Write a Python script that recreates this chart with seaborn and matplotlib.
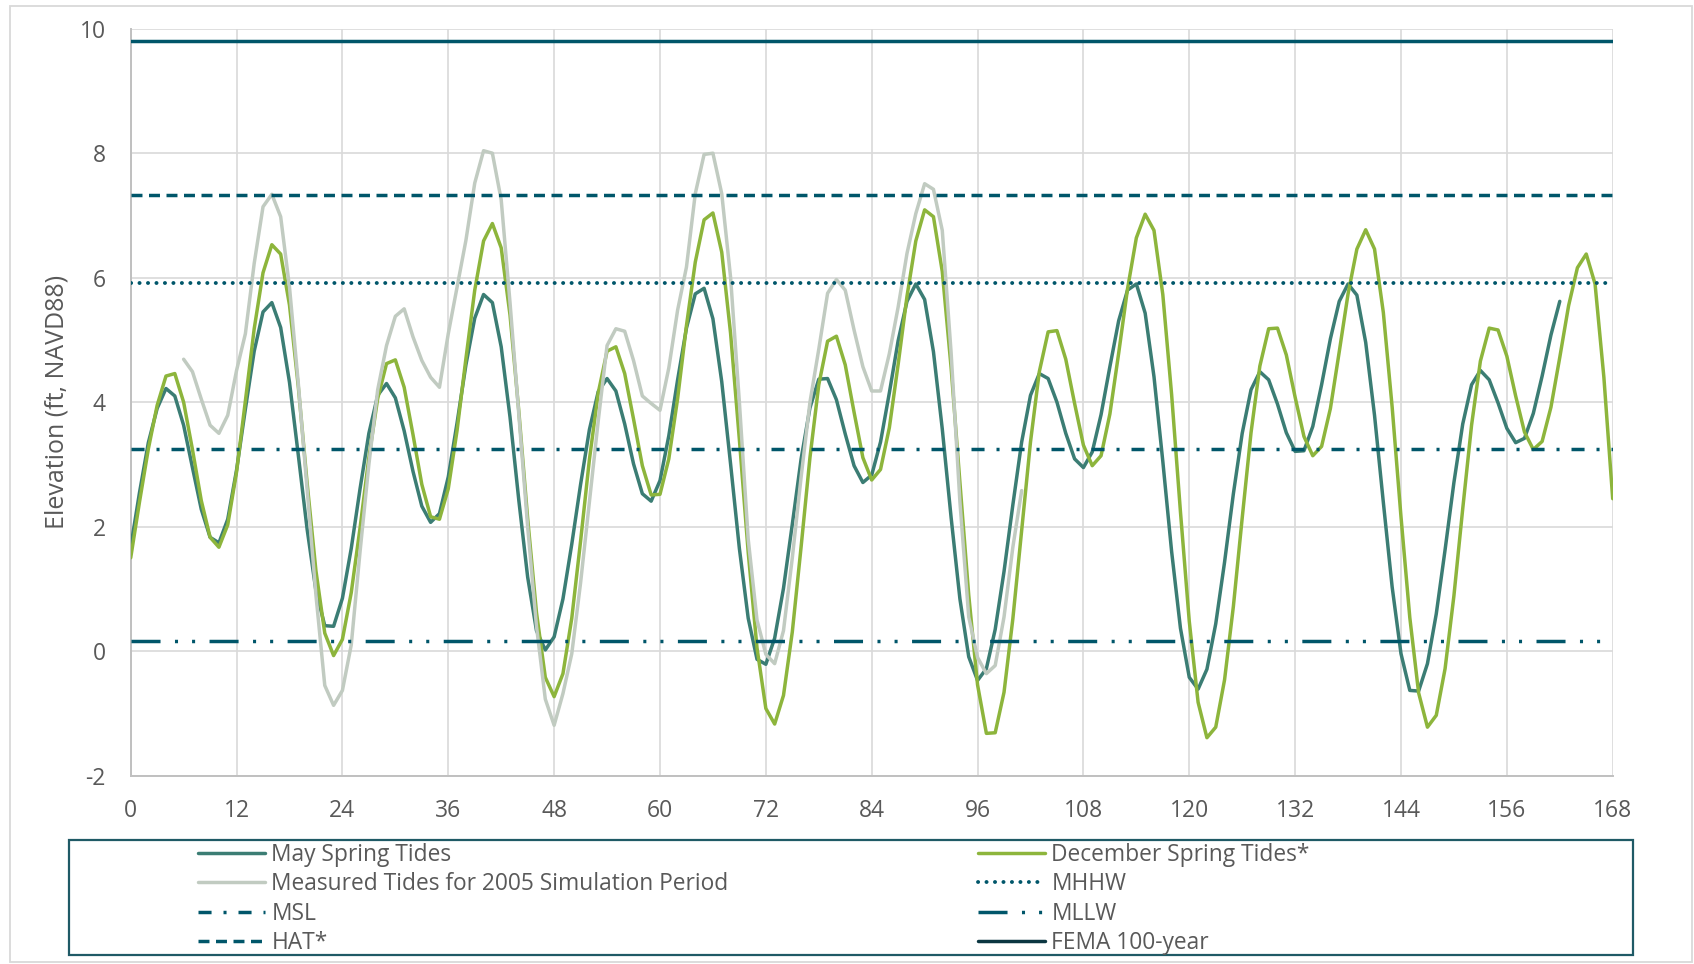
import matplotlib
matplotlib.use("Agg")
import matplotlib.pyplot as plt
import seaborn as sns
import pandas as pd
from matplotlib.lines import Line2D
from matplotlib.patches import Rectangle
from matplotlib.ticker import MultipleLocator

# ---------------- data ----------------
may_hours = list(range(0, 163))
may_tides = [1.67, 2.55, 3.35, 3.90, 4.22, 4.10, 3.63, 2.95, 2.28, 1.83,
             1.74, 2.12, 2.91, 3.89, 4.82, 5.45, 5.60, 5.20, 4.32, 3.15,
             1.96, 0.97, 0.41, 0.40, 0.85, 1.65, 2.61, 3.50, 4.11, 4.30,
             4.07, 3.54, 2.89, 2.33, 2.07, 2.21, 2.80, 3.67, 4.60, 5.35,
             5.73, 5.60, 4.89, 3.76, 2.42, 1.19, 0.33, 0.02, 0.23, 0.84,
             1.72, 2.68, 3.56, 4.17, 4.38, 4.18, 3.65, 3.01, 2.53, 2.41,
             2.74, 3.46, 4.36, 5.19, 5.74, 5.83, 5.34, 4.33, 3.01, 1.65,
             0.53, -0.13, -0.21, 0.21, 1.01, 2.04, 3.09, 3.91, 4.37, 4.38,
             4.04, 3.49, 2.98, 2.71, 2.83, 3.36, 4.15, 4.99, 5.62, 5.90,
             5.65, 4.81, 3.57, 2.15, 0.84, -0.09, -0.47, -0.28, 0.35, 1.28,
             2.35, 3.36, 4.11, 4.46, 4.38, 4.00, 3.50, 3.09, 2.95, 3.20,
             3.80, 4.57, 5.31, 5.80, 5.90, 5.43, 4.41, 3.05, 1.60, 0.37,
             -0.42, -0.61, -0.29, 0.44, 1.43, 2.53, 3.50, 4.20, 4.49, 4.36,
             3.97, 3.51, 3.21, 3.22, 3.61, 4.28, 5.02, 5.62, 5.90, 5.72,
             4.96, 3.79, 2.39, 1.03, -0.04, -0.63, -0.64, -0.20, 0.60, 1.63,
             2.71, 3.65, 4.28, 4.51, 4.36, 3.99, 3.58, 3.35, 3.42, 3.82,
             4.42, 5.08, 5.62]

dec_hours = list(range(0, 169))
dec_tides = [1.50, 2.40, 3.25, 3.95, 4.42, 4.46, 4.00, 3.24, 2.42, 1.83,
             1.67, 2.03, 2.88, 4.02, 5.18, 6.08, 6.53, 6.38, 5.56, 4.25,
             2.70, 1.29, 0.29, -0.07, 0.19, 0.94, 1.98, 3.11, 4.06, 4.62,
             4.68, 4.24, 3.48, 2.68, 2.16, 2.12, 2.61, 3.55, 4.70, 5.80,
             6.59, 6.87, 6.48, 5.40, 3.85, 2.13, 0.62, -0.42, -0.73, -0.36,
             0.53, 1.77, 3.08, 4.15, 4.82, 4.89, 4.46, 3.73, 2.98, 2.51,
             2.52, 3.09, 4.06, 5.23, 6.25, 6.93, 7.04, 6.41, 5.11, 3.40,
             1.59, 0.05, -0.92, -1.17, -0.71, 0.31, 1.68, 3.11, 4.28, 4.98,
             5.06, 4.60, 3.84, 3.11, 2.75, 2.92, 3.59, 4.61, 5.70, 6.59,
             7.09, 6.98, 6.10, 4.56, 2.71, 0.90, -0.54, -1.32, -1.31, -0.66,
             0.52, 1.94, 3.36, 4.49, 5.13, 5.15, 4.69, 3.98, 3.31, 2.98,
             3.14, 3.81, 4.79, 5.82, 6.64, 7.02, 6.76, 5.73, 4.12, 2.24,
             0.48, -0.82, -1.39, -1.22, -0.46, 0.72, 2.14, 3.51, 4.58, 5.18,
             5.19, 4.76, 4.08, 3.45, 3.14, 3.29, 3.90, 4.81, 5.74, 6.46,
             6.77, 6.46, 5.44, 3.92, 2.16, 0.54, -0.67, -1.22, -1.03, -0.28,
             0.89, 2.29, 3.63, 4.66, 5.19, 5.16, 4.74, 4.10, 3.52, 3.24,
             3.37, 3.92, 4.72, 5.55, 6.16, 6.38, 5.90, 4.40, 2.45]

measured_hours = list(range(6, 102))
measured_tides = [4.69, 4.49, 4.05, 3.63, 3.50, 3.79, 4.51, 5.10, 6.23, 7.14,
                  7.34, 6.98, 5.85, 4.30, 2.60, 0.90, -0.55, -0.87, -0.63, 0.10,
                  1.60, 3.00, 4.20, 4.91, 5.38, 5.50, 5.05, 4.67, 4.40, 4.24,
                  5.10, 5.85, 6.60, 7.52, 8.04, 8.00, 7.25, 5.60, 3.80, 2.00,
                  0.40, -0.77, -1.19, -0.68, -0.04, 1.10, 2.40, 3.70, 4.91, 5.18,
                  5.14, 4.67, 4.10, 3.98, 3.87, 4.55, 5.48, 6.17, 7.35, 7.98,
                  8.00, 7.35, 6.01, 4.00, 1.80, 0.50, -0.05, -0.20, 0.33, 1.50,
                  2.80, 4.00, 4.85, 5.75, 5.97, 5.80, 5.16, 4.57, 4.18, 4.18,
                  4.78, 5.53, 6.39, 7.03, 7.51, 7.42, 6.76, 4.80, 2.40, 0.55,
                  -0.10, -0.36, -0.23, 0.55, 1.67, 2.58]

level_names = ["MHHW", "MSL", "MLLW", "HAT*", "FEMA 100-year"]
level_values = [5.91, 3.25, 0.17, 7.33, 9.80]

series_names = ["May Spring Tides", "December Spring Tides*",
                "Measured Tides for 2005 Simulation Period"]

x_ticks = [0, 12, 24, 36, 48, 60, 72, 84, 96, 108, 120, 132, 144, 156, 168]
y_ticks = [-2, 0, 2, 4, 6, 8, 10]

assert len(may_hours) == len(may_tides)
assert len(dec_hours) == len(dec_tides)
assert len(measured_hours) == len(measured_tides)

# ---------------- style ----------------
sns.set_style("white")
plt.rcParams["font.family"] = ["Open Sans", "DejaVu Sans"]
plt.rcParams["axes.unicode_minus"] = False
plt.rcParams["lines.scale_dashes"] = False

C_MAY = "#3b7d74"
C_DEC = "#8db53c"
C_MEAS = "#c1cbc1"
C_LEVEL = "#00566a"
C_FEMA_LEG = "#0b3641"
C_TEXT = "#595959"
C_GRID = "#d9d9d9"
C_AXIS = "#c0c0c0"

LW_TIDE = 2.5
LW_LEVEL = 2.5
FS_TICK = 16.5
FS_YLAB = 18
FS_LEG = 16.4

level_styles = {
    "MHHW": dict(linestyle=(0, (0.1, 6.0)), dash_capstyle="round", linewidth=2.8),
    "MSL": dict(linestyle=(0, (9.4, 8.6, 2.2, 8.6)), dash_capstyle="butt", linewidth=LW_LEVEL),
    "MLLW": dict(linestyle=(0, (20.9, 10.4, 2.2, 10.1, 2.2, 10.4)), dash_capstyle="butt", linewidth=LW_LEVEL),
    "HAT*": dict(linestyle=(0, (7.9, 4.7)), dash_capstyle="butt", linewidth=LW_LEVEL),
    "FEMA 100-year": dict(linestyle="-", linewidth=LW_LEVEL),
}

W, H = 1694, 964
fig = plt.figure(figsize=(W / 100, H / 100), dpi=100)
ax = fig.add_axes([130.7 / W, (H - 775.7) / H, 1482 / W, 747 / H])

# ---------------- tide series ----------------
df_may = pd.DataFrame({"hour": may_hours, "elev": may_tides})
df_dec = pd.DataFrame({"hour": dec_hours, "elev": dec_tides})
df_meas = pd.DataFrame({"hour": measured_hours, "elev": measured_tides})

sns.lineplot(data=df_may, x="hour", y="elev", ax=ax, color=C_MAY,
             linewidth=LW_TIDE, estimator=None, sort=False, zorder=3)
sns.lineplot(data=df_dec, x="hour", y="elev", ax=ax, color=C_DEC,
             linewidth=LW_TIDE, estimator=None, sort=False, zorder=4)
sns.lineplot(data=df_meas, x="hour", y="elev", ax=ax, color=C_MEAS,
             linewidth=LW_TIDE, estimator=None, sort=False, zorder=5)

# ---------------- reference levels ----------------
for name, val in zip(level_names, level_values):
    ax.axhline(val, color=C_LEVEL, zorder=6, **level_styles[name])

# ---------------- axes ----------------
ax.set_xlim(0, 168)
ax.set_ylim(-2, 10)
ax.set_xticks(x_ticks)
ax.set_yticks(y_ticks)
ax.xaxis.set_minor_locator(MultipleLocator(3))
ax.set_xticklabels([str(t) for t in x_ticks])
ax.set_yticklabels([str(t) for t in y_ticks])
ax.grid(True, which="major", color=C_GRID, linewidth=1.2)
ax.set_axisbelow(True)
for s in ["top", "right"]:
    ax.spines[s].set_visible(False)
for s in ["left", "bottom"]:
    ax.spines[s].set_color(C_AXIS)
    ax.spines[s].set_linewidth(1.4)
    ax.spines[s].set_zorder(2)

ax.tick_params(axis="x", which="major", direction="inout", length=12,
               width=1.2, color=C_AXIS, pad=11, labelsize=FS_TICK, labelcolor=C_TEXT)
ax.tick_params(axis="x", which="minor", direction="in", length=4.8,
               width=1.2, color=C_AXIS)
ax.tick_params(axis="y", which="both", length=0, pad=18, labelsize=FS_TICK,
               labelcolor=C_TEXT)

ax.set_xlabel("")
ax.set_ylabel("Elevation (ft, NAVD88)", fontsize=FS_YLAB, color=C_TEXT, va="center")
ax.yaxis.set_label_coords(-0.0495, 0.5)

# ---------------- legend ----------------
def lvl_handle(name, color=C_LEVEL):
    return Line2D([0], [0], color=color, **level_styles[name])

col1_handles = [Line2D([0], [0], color=C_MAY, linewidth=LW_TIDE),
                Line2D([0], [0], color=C_MEAS, linewidth=LW_TIDE),
                lvl_handle("MSL"), lvl_handle("HAT*")]
col1_labels = [series_names[0], series_names[2], "MSL", "HAT*"]
col2_handles = [Line2D([0], [0], color=C_DEC, linewidth=LW_TIDE),
                lvl_handle("MHHW"), lvl_handle("MLLW"),
                lvl_handle("FEMA 100-year", C_FEMA_LEG)]
col2_labels = [series_names[1], "MHHW", "MLLW", "FEMA 100-year"]

leg_kw = dict(loc="upper left", bbox_transform=fig.transFigure, frameon=False,
              fontsize=FS_LEG, handlelength=2.95, handletextpad=0.27,
              borderpad=0, borderaxespad=0, labelspacing=0.24,
              labelcolor=C_TEXT)
fig.legend(col1_handles, col1_labels, bbox_to_anchor=(198 / W, 1 - 843 / H), **leg_kw)
fig.legend(col2_handles, col2_labels, bbox_to_anchor=(978 / W, 1 - 843 / H), **leg_kw)

fig.patches.append(Rectangle((69 / W, 1 - 955 / H), (1633 - 69) / W, 115 / H,
                             transform=fig.transFigure, fill=False,
                             edgecolor="#1f5a66", linewidth=1.6, zorder=1))
fig.patches.append(Rectangle((10 / W, 1 - 962 / H), 1682 / W, 956 / H,
                             transform=fig.transFigure, fill=False,
                             edgecolor=C_GRID, linewidth=1.3, zorder=0))

fig.savefig("out.png", dpi=100)
